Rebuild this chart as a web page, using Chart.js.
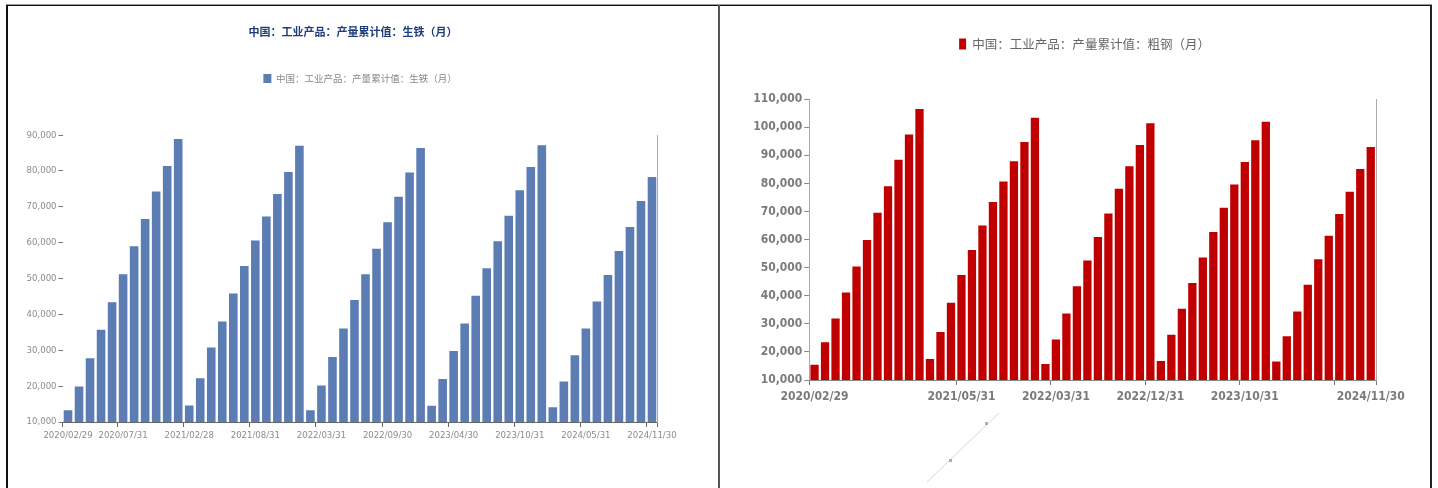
<!DOCTYPE html>
<html>
<head>
<meta charset="utf-8">
<script src="https://cdn.jsdelivr.net/npm/chart.js@4.4.1/dist/chart.umd.min.js"></script>
<style>
  html, body { margin: 0; padding: 0; background: #fff; }
  body { width: 1438px; height: 488px; position: relative; overflow: hidden; }
  .line { position: absolute; }
  .box { position: absolute; top: 6px; width: 710px; height: 482px; }
</style>
</head>
<body>
<div class="line" style="left:6px;top:4px;width:1426px;height:1px;background:#9a9a9a"></div>
<div class="line" style="left:6px;top:5px;width:1426px;height:1px;background:#111"></div>
<div class="line" style="left:6px;top:5px;width:2px;height:483px;background:#111"></div>
<div class="line" style="left:718px;top:5px;width:2px;height:483px;background:#555"></div>
<div class="line" style="left:1430px;top:5px;width:2px;height:483px;background:#222"></div>
<div class="box" style="left:8px"><canvas id="canvas1"></canvas></div>
<div class="box" style="left:720px"><canvas id="canvas2"></canvas></div>
<script>
var ctx1 = document.getElementById("canvas1").getContext("2d");
var ctx2 = document.getElementById("canvas2").getContext("2d");

// month-end dates, Jan+Feb reported together
const dates = [
  "2020/02/29", "2020/03/31", "2020/04/30", "2020/05/31", "2020/06/30", "2020/07/31",
  "2020/08/31", "2020/09/30", "2020/10/31", "2020/11/30", "2020/12/31",
  "2021/02/28", "2021/03/31", "2021/04/30", "2021/05/31", "2021/06/30", "2021/07/31",
  "2021/08/31", "2021/09/30", "2021/10/31", "2021/11/30", "2021/12/31",
  "2022/02/28", "2022/03/31", "2022/04/30", "2022/05/31", "2022/06/30", "2022/07/31",
  "2022/08/31", "2022/09/30", "2022/10/31", "2022/11/30", "2022/12/31",
  "2023/02/28", "2023/03/31", "2023/04/30", "2023/05/31", "2023/06/30", "2023/07/31",
  "2023/08/31", "2023/09/30", "2023/10/31", "2023/11/30", "2023/12/31",
  "2024/02/29", "2024/03/31", "2024/04/30", "2024/05/31", "2024/06/30", "2024/07/31",
  "2024/08/31", "2024/09/30", "2024/10/31", "2024/11/30"
];

const pigIronName = "中国：工业产品：产量累计值：生铁（月）";
const pigIron = [
  13300, 19900, 27800, 35700, 43400, 51200, 59000, 66600, 74300, 81400, 88900,
  14600, 22200, 30800, 38000, 45800, 53500, 60600, 67300, 73600, 79700, 87000,
  13300, 20200, 28100, 36100, 44000, 51200, 58300, 65700, 72800, 79600, 86400,
  14500, 22000, 29800, 37500, 45200, 52900, 60400, 67500, 74600, 81100, 87200,
  14100, 21300, 28600, 36100, 43600, 51000, 57700, 64400, 71600, 78300
];
const pigIronTicks = ["2020/02/29", "2020/07/31", "2021/02/28", "2021/08/31", "2022/03/31",
  "2022/09/30", "2023/04/30", "2023/10/31", "2024/05/31", "2024/11/30"];

const steelName = "中国：工业产品：产量累计值：粗钢（月）";
const crudeSteel = [
  15400, 23400, 31900, 41200, 50400, 59900, 69600, 79000, 88400, 97400, 106500,
  17500, 27100, 37500, 47400, 56300, 65000, 73400, 80700, 87900, 94800, 103400,
  15700, 24400, 33700, 43400, 52600, 60900, 69300, 78100, 86100, 93700, 101400,
  16800, 26100, 35400, 44500, 53600, 62700, 71300, 79600, 87600, 95400, 102000,
  16600, 25600, 34400, 43900, 53000, 61400, 69100, 77000, 85100, 93000
];
const steelTicks = ["2020/02/29", "2021/05/31", "2022/03/31", "2022/12/31", "2023/10/31", "2024/11/30"];
const steelMarks = ["2020/02/29", "2021/05/31", "2022/03/31", "2022/12/31", "2023/10/31", "2024/08/31"];

const cjk = "'Noto Sans CJK SC', sans-serif";
const narrow = "'Liberation Sans Narrow', 'DejaVu Sans Condensed', sans-serif";

// tick marks only at chosen dates, plus the closing mark at the axis end
function markColor(marks, color) {
  return function (c) {
    if (c.type !== "tick") return color;
    return marks.includes(dates[c.index]) ? color : "rgba(0,0,0,0)";
  };
}

const strayMark = {
  id: "strayMark",
  afterDraw(chart) {
    const c = chart.ctx;
    c.save();
    c.strokeStyle = "#d6d6d6";
    c.lineWidth = 1;
    c.beginPath();
    c.moveTo(207, 476);
    c.lineTo(279, 407);
    c.stroke();
    c.fillStyle = "#b0b0b0";
    c.fillRect(229, 453, 3, 3);
    c.fillRect(265, 416, 3, 3);
    c.restore();
  },
};

let myChart = new Chart(ctx1, {
  type: "bar",
  data: {
    labels: dates,
    datasets: [
      {
        label: pigIronName,
        data: pigIron,
        backgroundColor: "#5b7db4",
        barPercentage: 0.78,
        categoryPercentage: 1,
        xAxisID: "x",
        yAxisID: "y",
      },
    ],
  },
  options: {
    responsive: true,
    maintainAspectRatio: false,
    animation: false,
    layout: { padding: { left: 0, right: 20, top: 0, bottom: 0 } },
    plugins: {
      title: {
        display: true,
        text: pigIronName,
        color: "#1f3c7a",
        font: { family: cjk, size: 11, weight: "bold" },
        padding: { top: 19, bottom: 0 },
      },
      legend: {
        fullSize: false,
        labels: {
          boxWidth: 8,
          boxHeight: 9,
          padding: 35.6,
          color: "#888",
          font: { family: cjk, size: 9.5 },
        },
      },
      tooltip: { enabled: false },
    },
    scales: {
      x: {
        offset: true,
        grid: {
          offset: true,
          drawOnChartArea: false,
          tickLength: 5,
          color: markColor(pigIronTicks, "#666"),
          tickColor: markColor(pigIronTicks, "#666"),
        },
        border: { display: true, color: "#666" },
        ticks: {
          autoSkip: false,
          maxRotation: 0,
          minRotation: 0,
          padding: 3,
          color: "#8c8c8c",
          font: { family: narrow, size: 9.5 },
          callback: (v, i) => (pigIronTicks.includes(dates[i]) ? dates[i] : ""),
        },
        afterFit: (s) => { s.height = 66; },
      },
      y: {
        min: 10000,
        max: 90000,
        ticks: { stepSize: 10000, padding: 2, color: "#8c8c8c", font: { family: narrow, size: 9.5 } },
        grid: { drawOnChartArea: false, tickLength: 4, color: "#777" },
        border: { display: false },
        afterFit: (s) => { s.width = 54.5; },
      },
      x2: {
        type: "category",
        position: "top",
        display: true,
        grid: { display: false },
        border: { display: false },
        ticks: { display: false },
        afterFit: (s) => { s.height = 41.8; },
      },
      y2: {
        type: "linear",
        position: "right",
        display: true,
        grid: { display: false },
        border: { display: true, color: "#aaa" },
        ticks: { display: false },
        afterFit: (s) => { s.width = 40.5; },
      },
    },
  },
});

let myChart2 = new Chart(ctx2, {
  type: "bar",
  data: {
    labels: dates,
    datasets: [
      {
        label: steelName,
        data: crudeSteel,
        backgroundColor: "#c00000",
        barPercentage: 0.79,
        categoryPercentage: 1,
        xAxisID: "x",
        yAxisID: "y",
      },
    ],
  },
  options: {
    responsive: true,
    maintainAspectRatio: false,
    animation: false,
    layout: { padding: { left: 19, right: 0, top: 0, bottom: 0 } },
    plugins: {
      legend: {
        labels: {
          boxWidth: 7,
          boxHeight: 11,
          padding: 31.7,
          color: "#666",
          font: { family: cjk, size: 12.5 },
        },
      },
      tooltip: { enabled: false },
    },
    scales: {
      x: {
        offset: true,
        grid: {
          offset: true,
          drawOnChartArea: false,
          tickLength: 5,
          color: markColor(steelMarks, "#777"),
          tickColor: markColor(steelMarks, "#777"),
        },
        border: { display: true, color: "#888" },
        ticks: {
          autoSkip: false,
          maxRotation: 0,
          minRotation: 0,
          padding: 5,
          color: "#7a7a7a",
          font: { family: narrow, size: 12, weight: "bold" },
          callback: (v, i) => (steelTicks.includes(dates[i]) ? dates[i] : ""),
        },
        afterFit: (s) => { s.height = 108; },
      },
      y: {
        min: 10000,
        max: 110000,
        ticks: {
          stepSize: 10000,
          padding: 2,
          color: "#7a7a7a",
          font: { family: narrow, size: 12, weight: "bold" },
        },
        grid: { drawOnChartArea: false, tickLength: 5, color: "#888" },
        border: { display: true, color: "#aaa" },
        afterFit: (s) => { s.width = 70.3; },
      },
      x2: {
        type: "category",
        position: "top",
        display: true,
        grid: { display: false },
        border: { display: false },
        ticks: { display: false },
        afterFit: (s) => { s.height = 39; },
      },
      y2: {
        type: "linear",
        position: "right",
        display: true,
        grid: { display: false },
        border: { display: true, color: "#aaa" },
        ticks: { display: false },
        afterFit: (s) => { s.width = 54; },
      },
    },
  },
  plugins: [strayMark],
});
</script>
</body>
</html>
